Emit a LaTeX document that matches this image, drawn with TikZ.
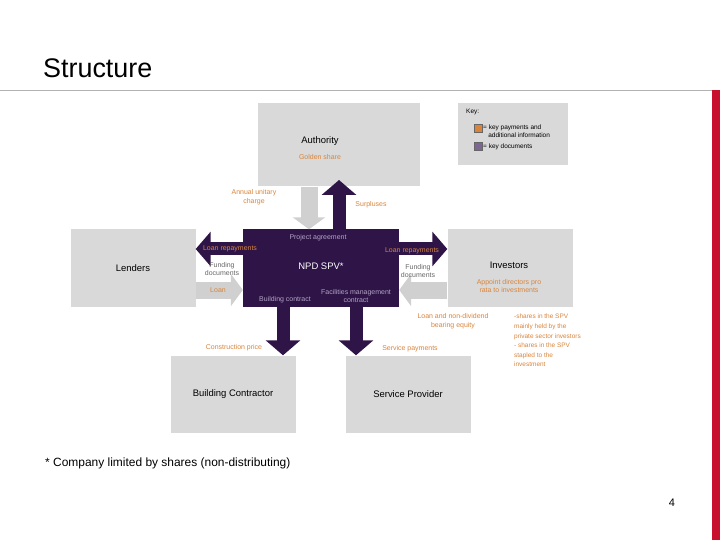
\documentclass[tikz,border=0pt]{standalone}
\usepackage{fontspec}
\setmainfont{Liberation Sans}
\usetikzlibrary{arrows.meta,positioning,calc}
\definecolor{spvpurple}{HTML}{2E1447}
\definecolor{boxgrey}{HTML}{D9D9D9}
\definecolor{arrgrey}{HTML}{D0D0D0}
\definecolor{keyorange}{HTML}{D8843C}
\definecolor{lightpurple}{HTML}{B3A4C6}
\definecolor{keypurple}{HTML}{7B6792}
\definecolor{rulered}{HTML}{C8102E}
\begin{document}
\begin{tikzpicture}
  [
    x = 1bp,
    y = -1bp,
    every node/.style = {
      font = \fontsize{7}{9}\selectfont,
      inner sep = 0pt,
      align = center,
    },
    party/.style = {
      fill = boxgrey,
      font = \fontsize{9.5}{11}\selectfont,
      minimum width = 125bp,
      minimum height = 77bp,
    },
    pay/.style = {
      text = keyorange,
    },
    doc/.style = {
      text = lightpurple,
    },
    fatp/.style = {
      draw = spvpurple,
      line width = 13bp,
      -{Triangle[width=34bp,length=15bp]},
    },
    fatg/.style = {
      draw = arrgrey,
      line width = 17bp,
      -{Triangle[width=32bp,length=12bp]},
    },
  ]
  \useasboundingbox (0,0) rectangle (720,540);

  \node (title) [anchor=west, font=\fontsize{27}{30}\selectfont] at (43,68) {Structure};
  \draw [gray!60] (0,90) -- (712,90);
  \fill [rulered] (712,90) rectangle (720,540);

  % key
  \node (key) [fill=boxgrey, minimum width=110bp, minimum height=62bp] at (513,134) {};
  \node [anchor=west, font=\fontsize{6.5}{7.5}\selectfont] at (466,112) {Key:};
  \node (ko) [draw=black!60, fill=keyorange, minimum size=8bp] at (478,128) {};
  \node [anchor=north west, align=left, font=\fontsize{6.5}{8}\selectfont] at (483,125) {= key payments and\\\hspace{0.8em}additional information};
  \node (kp) [draw=black!60, fill=keypurple, minimum size=8bp] at (478,146) {};
  \node [anchor=west, font=\fontsize{6.5}{7.5}\selectfont] at (483,147) {= key documents};

  % parties
  \node (auth)  [party, minimum width=162bp, minimum height=83bp] at (339,145) {};
  \node at (320,141) {\fontsize{9.5}{11}\selectfont Authority};
  \node [pay] at (320,157) {Golden share};
  \node (spv) [fill=spvpurple, minimum width=156bp, minimum height=77bp] at (321,268) {};
  \node (lend)  [party] at (133,268) {Lenders};
  \node (inv)   [party] at (510,268) {};
  \node at (509,265) {\fontsize{9.5}{11}\selectfont Investors};
  \node (build) [party] at (233,394) {Building Contractor};
  \node (serv)  [party] at (408,394) {Service Provider};

  % connectors
  \draw [fatg] ([xshift=-30bp] auth.south) -- ([xshift=-30bp] auth.south |- spv.north);
  \draw [fatp] ([xshift=18bp] spv.north) -- ([xshift=18bp] spv.north |- 0,180);
  \draw [fatp] ([yshift=19bp] spv.west) -- ([yshift=19bp] lend.east |- spv.west);
  \draw [fatp] ([yshift=19bp] spv.east) -- ([yshift=19bp] inv.west |- spv.east);
  \draw [fatg] ([yshift=-22bp] lend.east) -- ([yshift=-22bp] spv.west |- lend.east);
  \draw [fatg] ([yshift=-22bp] inv.west) -- ([yshift=-22bp] spv.east |- inv.west);
  \draw [fatp] ($(spv.south)+(-38bp,0)$) -- ($(spv.south |- build.north)+(-38bp,0)$);
  \draw [fatp] ($(spv.south)+(35bp,0)$) -- ($(spv.south |- serv.north)+(35bp,0)$);

  \node [text=white, font=\fontsize{9.5}{11}\selectfont] at (321,266) {NPD SPV*};

  % labels
  \node [pay] at (254,197) {Annual unitary\\charge};
  \node [pay] at (371,205) {Surpluses};
  \node [doc] at (318,238) {Project agreement};
  \node [pay] at (230,249) {Loan repayments};
  \node [pay] at (412,251) {Loan repayments};
  \node [text=black!60] at (222,269) {Funding\\documents};
  \node [text=black!60] at (418,271) {Funding\\documents};
  \node [pay] at (218,290) {Loan};
  \node [doc] at (285,300) {Building contract};
  \node [doc] at (356,296) {Facilities management\\contract};
  \node [pay] at (509,286) {Appoint directors pro\\rata to investments};
  \node [pay] at (453,321) {Loan and non-dividend\\bearing equity};
  \node [pay, anchor=north west, align=left, font=\fontsize{6.5}{9.6}\selectfont] at (514,314) {-shares in the SPV\\mainly held by the\\private sector investors\\- shares in the SPV\\stapled to the\\investment};
  \node [pay] at (234,348) {Construction price};
  \node [pay] at (410,349) {Service payments};

  \node (note) [anchor=west, font=\fontsize{12}{14}\selectfont] at (45,463) {* Company limited by shares (non-distributing)};
  \node (page) [font=\fontsize{11}{13}\selectfont] at (672,503) {4};
\end{tikzpicture}
\end{document}
